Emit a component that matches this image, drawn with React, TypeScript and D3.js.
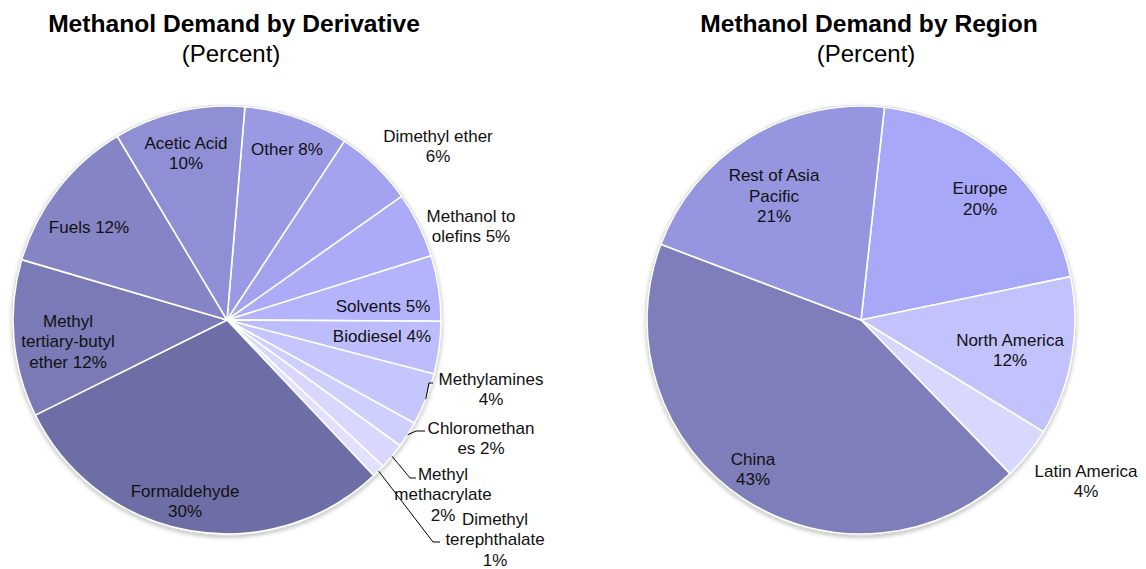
import React from "react";
import * as d3 from "d3";

// ---------- DATA ----------
const derivCategories = [
  "Other", "Dimethyl ether", "Methanol to olefins", "Solvents", "Biodiesel",
  "Methylamines", "Chloromethanes", "Methyl methacrylate", "Dimethyl terephthalate",
  "Formaldehyde", "Methyl tertiary-butyl ether", "Fuels", "Acetic Acid",
];
const derivValues = [8, 6, 5, 5, 4, 4, 2, 2, 1, 30, 12, 12, 10];
const derivLabels = [
  ["Other 8%"], ["Dimethyl ether", "6%"], ["Methanol to", "olefins 5%"], ["Solvents 5%"],
  ["Biodiesel 4%"], ["Methylamines", "4%"], ["Chloromethan", "es 2%"],
  ["Methyl", "methacrylate", "2%"], ["Dimethyl", "terephthalate", "1%"],
  ["Formaldehyde", "30%"], ["Methyl", "tertiary-butyl", "ether 12%"], ["Fuels 12%"],
  ["Acetic Acid", "10%"],
];

const regionCategories = ["Europe", "North America", "Latin America", "China", "Rest of Asia Pacific"];
const regionValues = [20, 12, 4, 43, 21];
const regionLabels = [
  ["Europe", "20%"], ["North America", "12%"], ["Latin America", "4%"],
  ["China", "43%"], ["Rest of Asia", "Pacific", "21%"],
];

// ---------- STYLE / LAYOUT ----------
const derivColors = [
  "#9a9ae4", "#a2a2ee", "#ababf8", "#b4b4fc", "#bdbdfe", "#c6c6ff", "#cfcfff",
  "#d8d8ff", "#e1e1ff", "#6e6ea6", "#7a7ab6", "#8585c6", "#8f8fd6",
];
const regionColors = ["#a8a8f8", "#c2c2fc", "#d8d8fe", "#7e7eba", "#9696e0"];

// label block centers relative to pie center
const derivLabelPos: [number, number][] = [
  [60, -171], [211, -174], [244, -94], [156, -14], [155, 16], [264, 69], [254, 118],
  [216, 174], [268, 219], [-42, 181], [-159, 21], [-138, -93], [-41, -167],
];
const regionLabelPos: [number, number][] = [
  [119, -121.5], [149, 30], [225, 161], [-108, 149], [-87, -124.5],
];
// leader lines: [elbow, end] relative to pie center (null = no leader)
const derivLeaders: ([number, number][] | null)[] = [
  null, null, null, null, null,
  [[202, 63], [206, 63]],
  [[189, 111], [198, 111]],
  [[183, 158], [189, 158]],
  [[206, 222], [213, 222]],
  null, null, null, null,
];
const regionLeaders: ([number, number][] | null)[] = [null, null, null, null, null];

const R = 214;
const FONT = "'Liberation Sans', Arial, Helvetica, sans-serif";
const LH = 20.5;

type PieProps = {
  cx: number; cy: number; title: string; titleX: number; subX: number;
  values: number[]; colors: string[]; labels: string[][];
  labelPos: [number, number][]; leaders: ([number, number][] | null)[];
  startDeg: number; id: string;
};

function Pie(p: PieProps) {
  const start = (p.startDeg * Math.PI) / 180;
  const pie = d3.pie<number>().sort(null).value((d) => d).startAngle(start).endAngle(start + 2 * Math.PI);
  const arcs = pie(p.values);
  const arc = d3.arc<d3.PieArcDatum<number>>().innerRadius(0).outerRadius(R);
  const edge = d3.arc<d3.PieArcDatum<number>>().innerRadius(R).outerRadius(R);
  return (
    <g>
      <text x={p.titleX} y={32} textAnchor="middle" fontFamily={FONT} fontWeight="bold" fontSize={24.6} fill="#000">
        {p.title}
      </text>
      <text x={p.subX} y={62} textAnchor="middle" fontFamily={FONT} fontSize={24} fill="#000">
        (Percent)
      </text>
      <g transform={`translate(${p.cx},${p.cy})`}>
        <circle r={R + 0.5} fill="#fff" stroke="#cfcfcf" strokeWidth={1.5} filter={`url(#shadow)`} />
        {arcs.map((a, i) => (
          <path key={i} d={arc(a) || ""} fill={p.colors[i]} stroke="#fff" strokeWidth={1.6} strokeLinejoin="round" />
        ))}
        {arcs.map((a, i) => {
          const ld = p.leaders[i];
          if (!ld) return null;
          const s = edge.centroid(a);
          const pts = [s, ...ld];
          return (
            <path key={"l" + i} d={d3.line()(pts as [number, number][]) || ""} fill="none" stroke="#000" strokeWidth={1} />
          );
        })}
        {p.labels.map((lines, i) => {
          const [lx, ly] = p.labelPos[i];
          const y0 = ly - ((lines.length - 1) * LH) / 2 + 6;
          return (
            <text key={"t" + i} textAnchor="middle" fontFamily={FONT} fontSize={17} fill="#111">
              {lines.map((ln, j) => (
                <tspan key={j} x={lx} y={y0 + j * LH}>{ln}</tspan>
              ))}
            </text>
          );
        })}
      </g>
    </g>
  );
}

export default function App() {
  return (
    <div style={{ position: "absolute", left: 0, top: 0 }}>
      <svg width={1146} height={569} style={{ display: "block", background: "#fff" }}>
        <defs>
          <filter id="shadow" x="-10%" y="-10%" width="120%" height="125%">
            <feDropShadow dx="0" dy="2" stdDeviation="2" floodColor="#000" floodOpacity="0.25" />
          </filter>
        </defs>
        <Pie id="d" cx={227} cy={320} title="Methanol Demand by Derivative" titleX={234} subX={231}
          values={derivValues} colors={derivColors} labels={derivLabels}
          labelPos={derivLabelPos} leaders={derivLeaders} startDeg={4.8} />
        <Pie id="r" cx={861} cy={320} title="Methanol Demand by Region" titleX={869} subX={866}
          values={regionValues} colors={regionColors} labels={regionLabels}
          labelPos={regionLabelPos} leaders={regionLeaders} startDeg={6.3} />
      </svg>
    </div>
  );
}
